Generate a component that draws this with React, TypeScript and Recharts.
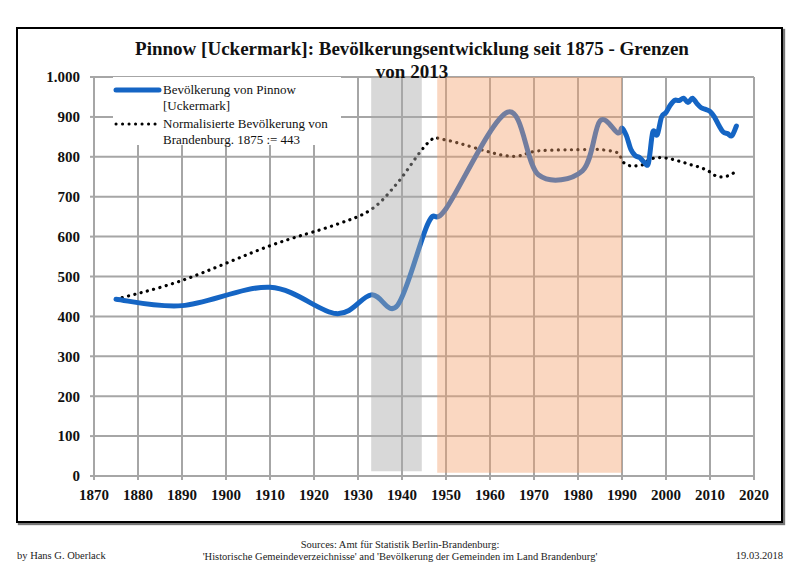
import React from 'react';
import { LineChart, Line, XAxis, YAxis, CartesianGrid, ReferenceArea, Legend } from 'recharts';

// Pinnow (Uckermark) population
const pinnowYears = [1875, 1890, 1910, 1925, 1933, 1939, 1946, 1950, 1964, 1971, 1981, 1985, 1989,
  1990, 1991, 1992, 1993, 1994, 1995, 1996, 1997, 1998, 1999, 2000, 2001, 2002, 2003, 2004, 2005,
  2006, 2007, 2008, 2009, 2010, 2011, 2012, 2013, 2014, 2015, 2016];
const pinnowValues = [443, 427, 473, 407, 454, 428, 635, 670, 912, 755, 765, 890, 860,
  872, 853, 819, 803, 798, 787, 784, 862, 855, 900, 911, 930, 942, 941, 947, 936,
  947, 934, 923, 919, 914, 900, 879, 862, 858, 853, 877];
// Brandenburg normalised to 1875 := 443
const brandenburgValues = [443, 490, 577, 630, 668, 735, 836, 842, 802, 815, 818, 818, 810,
  790, 781, 777, 777, 779, 781, 792, 796, 798, 798, 797, 795, 792, 789, 786, 782,
  779, 776, 772, 768, 762, 754, 750, 750, 752, 757, 764];

const xTicks = [1870, 1880, 1890, 1900, 1910, 1920, 1930, 1940, 1950, 1960, 1970, 1980, 1990, 2000, 2010, 2020];
const yTicks = [0, 100, 200, 300, 400, 500, 600, 700, 800, 900, 1000];
const naziBand = [1933, 1944.5];
const gdrBand = [1948, 1990];

const data = pinnowYears.map((year, i) => ({
  year,
  pinnow: pinnowValues[i],
  brandenburg: brandenburgValues[i],
}));

const BLUE = '#1565c4';
const GRID = '#a6a6a6';
const SERIF = '"Liberation Serif", "DejaVu Serif", serif';

// Excel-like smoothing (cardinal spline through every point)
const excelSmooth = (context: any) => {
  let pts: number[][] = [];
  return {
    areaStart() {},
    areaEnd() {},
    lineStart() { pts = []; },
    point(x: number, y: number) { pts.push([+x, +y]); },
    lineEnd() {
      if (!pts.length) return;
      context.moveTo(pts[0][0], pts[0][1]);
      for (let i = 0; i < pts.length - 1; i++) {
        const p0 = pts[i - 1] || pts[i];
        const p1 = pts[i];
        const p2 = pts[i + 1];
        const p3 = pts[i + 2] || p2;
        context.bezierCurveTo(
          p1[0] + (p2[0] - p0[0]) / 6, p1[1] + (p2[1] - p0[1]) / 6,
          p2[0] - (p3[0] - p1[0]) / 6, p2[1] - (p3[1] - p1[1]) / 6,
          p2[0], p2[1],
        );
      }
    },
  };
};

const LegendBox = () => (
  <div style={{ background: 'white', width: 228, height: 68, fontFamily: SERIF, fontSize: 13, lineHeight: '16px', color: '#111' }}>
    <div style={{ display: 'flex', paddingTop: 5 }}>
      <svg width={50} height={16}>
        <line x1={3} y1={8} x2={46} y2={8} stroke={BLUE} strokeWidth={5} strokeLinecap="round" />
      </svg>
      <div style={{ fontFamily: SERIF }}>Bevölkerung von Pinnow<br />[Uckermark]</div>
    </div>
    <div style={{ display: 'flex', paddingTop: 2 }}>
      <svg width={50} height={16}>
        <line x1={3} y1={8} x2={46} y2={8} stroke="#000" strokeWidth={3} strokeLinecap="round" strokeDasharray="0.1 6.4" />
      </svg>
      <div style={{ fontFamily: SERIF }}>Normalisierte Bevölkerung von<br />Brandenburg. 1875 := 443</div>
    </div>
  </div>
);

const App: React.FC = () => {
  const tickStyle = { fontFamily: SERIF, fontSize: 15, fontWeight: 700, fill: '#111' };
  return (
    <div style={{ position: 'absolute', left: 0, top: 0, width: 800, height: 566, background: 'white' }}>
      <div style={{ position: 'absolute', left: 16, top: 27, width: 763, height: 492, border: '2px solid #000', boxShadow: '2px 2px 1px #777' }} />
      <div style={{ position: 'absolute', left: 0, top: 0 }}>
        <LineChart width={800} height={566} data={data} margin={{ top: 77, right: 46, left: 34, bottom: 60 }}>
          <CartesianGrid stroke={GRID} strokeWidth={2} />
          <XAxis
            dataKey="year"
            type="number"
            domain={[1870, 2020]}
            ticks={xTicks}
            height={30}
            tickSize={4}
            tickMargin={9}
            stroke={GRID}
            strokeWidth={2}
            tick={tickStyle}
          />
          <YAxis
            type="number"
            domain={[0, 1000]}
            ticks={yTicks}
            width={60}
            tickSize={4}
            tickMargin={10}
            stroke={GRID}
            strokeWidth={2}
            tick={tickStyle}
            tickFormatter={(v: number) => (v === 1000 ? '1.000' : String(v))}
          />
          <Line
            dataKey="brandenburg"
            name="Normalisierte Bevölkerung von Brandenburg. 1875 := 443"
            type={excelSmooth as any}
            stroke="#000"
            strokeWidth={3.2}
            strokeDasharray="0.1 6.4"
            strokeLinecap="round"
            dot={false}
            isAnimationActive={false}
          />
          <Line
            dataKey="pinnow"
            name="Bevölkerung von Pinnow [Uckermark]"
            type={excelSmooth as any}
            stroke={BLUE}
            strokeWidth={5}
            strokeLinecap="round"
            dot={false}
            isAnimationActive={false}
          />
          <ReferenceArea x1={naziBand[0]} x2={naziBand[1]} y1={12} y2={1000} fill="#a8a8a8" fillOpacity={0.45} stroke="none" zIndex={450} ifOverflow="visible" />
          <ReferenceArea x1={gdrBand[0]} x2={gdrBand[1]} y1={8} y2={1000} fill="#f3a06c" fillOpacity={0.42} stroke="none" zIndex={450} ifOverflow="visible" />
          <Legend
            layout="vertical"
            align="center"
            verticalAlign="middle"
            wrapperStyle={{ position: 'absolute', left: 113, top: 77, width: 228 }}
            content={() => <LegendBox />}
          />
        </LineChart>
      </div>
      <div style={{ position: 'absolute', left: 16, top: 37, width: 792, textAlign: 'center', fontFamily: SERIF, fontWeight: 700, fontSize: 19, lineHeight: '23px', color: '#111' }}>
        Pinnow [Uckermark]: Bevölkerungsentwicklung seit 1875 - Grenzen<br />von 2013
      </div>
      <div style={{ position: 'absolute', left: 17, top: 550, fontFamily: SERIF, fontSize: 10.5, color: '#222' }}>by Hans G. Oberlack</div>
      <div style={{ position: 'absolute', left: 0, top: 539, width: 800, textAlign: 'center', fontFamily: SERIF, fontSize: 10.5, lineHeight: '12px', color: '#222' }}>
        Sources: Amt für Statistik Berlin-Brandenburg:<br />
        'Historische Gemeindeverzeichnisse' and 'Bevölkerung der Gemeinden im Land Brandenburg'
      </div>
      <div style={{ position: 'absolute', right: 17, top: 550, fontFamily: SERIF, fontSize: 10.5, color: '#222' }}>19.03.2018</div>
    </div>
  );
};

export default App;
